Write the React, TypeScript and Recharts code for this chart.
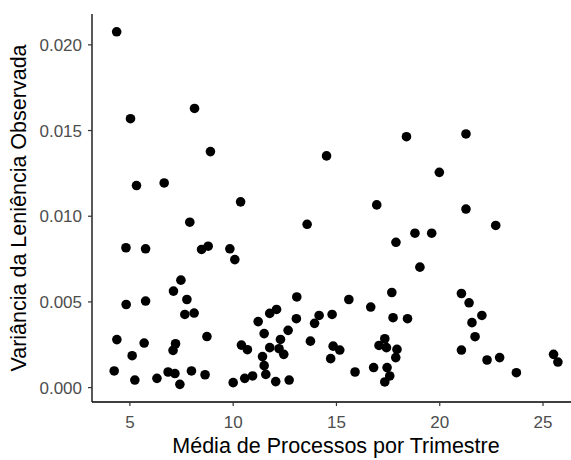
import { ScatterChart, Scatter, XAxis, YAxis } from "recharts";

// media de processos por trimestre (x) e variancia da leniencia (y)
const mediaProcessos = [
  4.36, 5.03, 8.13, 8.9, 5.32, 6.66, 10.36, 14.52, 18.39, 21.27, 19.98, 16.95,
  21.27, 13.58, 22.71, 18.8, 19.61, 17.88, 19.04, 17.68, 21.05, 13.08, 15.6,
  21.42, 16.66, 14.79, 14.16, 13.94, 13.06, 17.74, 18.44, 22.04, 21.56, 21.71,
  12.66, 12.29, 13.74, 14.84, 15.16, 12.45, 14.72, 17.34, 17.06, 17.42, 17.93,
  17.87, 21.05, 22.29, 22.9, 23.71, 25.51, 25.72, 15.9, 16.8, 17.45, 17.58,
  17.34, 12.71, 7.9, 4.81, 5.76, 8.47, 8.79, 9.84, 10.08, 7.47, 7.11, 7.76,
  5.76, 4.82, 7.66, 8.11, 11.21, 12.1, 11.77, 11.5, 4.37, 5.69, 8.73, 7.21,
  7.09, 10.4, 10.69, 11.77, 12.22, 5.11, 11.42, 11.5, 11.58, 4.24, 5.24, 6.31,
  6.85, 7.18, 7.42, 7.98, 8.64, 10.0, 10.56, 10.94, 12.06,
];

const varianciaLeniencia = [
  0.02076, 0.01569, 0.01629, 0.01377, 0.01179, 0.01194, 0.01084, 0.01352,
  0.01464, 0.0148, 0.01256, 0.01066, 0.01042, 0.00953, 0.00946, 0.00901,
  0.00901, 0.00848, 0.00703, 0.00555, 0.00549, 0.00529, 0.00514, 0.00495,
  0.0047, 0.00427, 0.00421, 0.00375, 0.00402, 0.00408, 0.00402, 0.00421,
  0.00379, 0.00297, 0.00334, 0.00281, 0.00271, 0.00242, 0.00219, 0.00194,
  0.00169, 0.00285, 0.00246, 0.00233, 0.00223, 0.00175, 0.00219, 0.00161,
  0.00175, 0.00087, 0.00194, 0.00149, 0.00091, 0.00117, 0.00117, 0.00068,
  0.00033, 0.00044, 0.00965, 0.00816, 0.0081, 0.00806, 0.00825, 0.0081,
  0.00747, 0.00627, 0.00563, 0.00514, 0.00505, 0.00485, 0.00427, 0.00435,
  0.00385, 0.00456, 0.00433, 0.00315, 0.0028, 0.0026, 0.00298, 0.00256,
  0.00217, 0.00248, 0.00221, 0.00233, 0.00227, 0.00186, 0.00181, 0.00128,
  0.00077, 0.00097, 0.00044, 0.00054, 0.00091, 0.00082, 0.00019, 0.00097,
  0.00075, 0.00029, 0.00054, 0.00068, 0.00035,
];

const xTicks = [5, 10, 15, 20, 25];
const yTicks = [0, 0.005, 0.01, 0.015, 0.02];

const data = mediaProcessos.map((x, i) => ({ x, y: varianciaLeniencia[i] }));

const Ponto = (props: any) => (
  <circle cx={props.cx} cy={props.cy} r={4.8} fill="#000000" />
);

export default function App() {
  return (
    <div
      style={{
        width: 571,
        height: 460,
        overflow: "hidden",
        background: "#ffffff",
        fontFamily: "'Liberation Sans', Arial, sans-serif",
      }}
    >
      <style>{"body{margin:0}"}</style>
      <ScatterChart
        width={580}
        height={460}
        margin={{ top: 14, right: 0, bottom: 0, left: 0 }}
      >
        <XAxis
          type="number"
          dataKey="x"
          domain={[3.166, 26.79]}
          ticks={xTicks}
          allowDataOverflow
          height={58}
          tickSize={4}
          tickMargin={10}
          tick={{ fill: "#4d4d4d", fontSize: 17 }}
          axisLine={{ stroke: "#000000", strokeWidth: 1.3 }}
          tickLine={{ stroke: "#333333", strokeWidth: 1.2 }}
          label={{
            value: "Média de Processos por Trimestre",
            position: "insideBottom",
            offset: 7,
            fill: "#000000",
            fontSize: 21.5,
          }}
        />
        <YAxis
          type="number"
          dataKey="y"
          domain={[-0.00084, 0.0218]}
          ticks={yTicks}
          allowDataOverflow
          width={92}
          tickSize={4}
          tickMargin={6}
          tickFormatter={(v: number) => v.toFixed(3)}
          tick={{ fill: "#4d4d4d", fontSize: 17 }}
          axisLine={{ stroke: "#000000", strokeWidth: 1.3 }}
          tickLine={{ stroke: "#333333", strokeWidth: 1.2 }}
          label={{
            value: "Variância da Leniência Observada",
            angle: -90,
            position: "insideLeft",
            offset: 18,
            fill: "#000000",
            fontSize: 21.5,
            style: { textAnchor: "middle" },
          }}
        />
        <Scatter data={data} shape={Ponto} isAnimationActive={false} />
      </ScatterChart>
    </div>
  );
}
